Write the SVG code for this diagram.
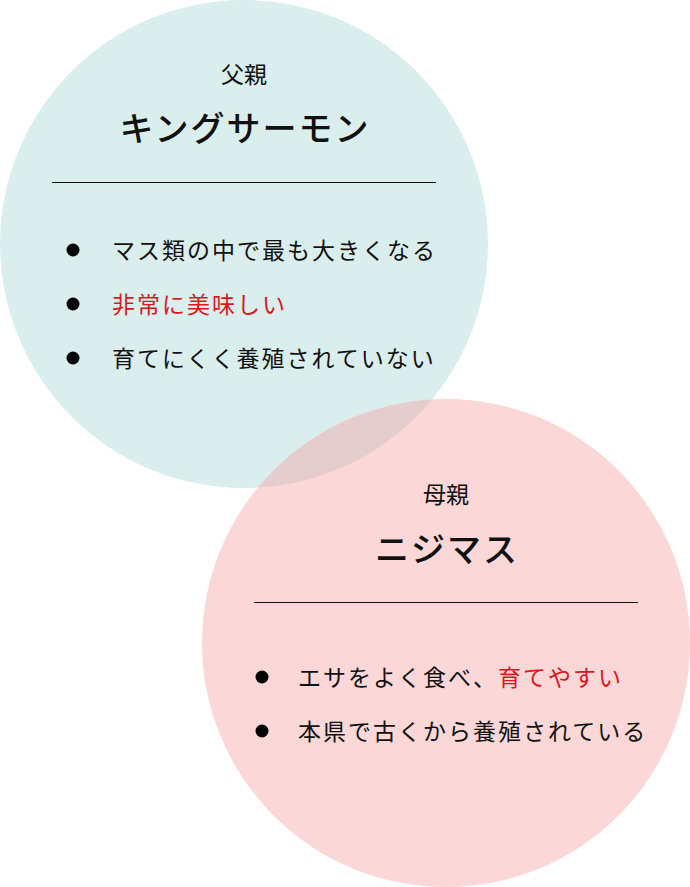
<svg xmlns="http://www.w3.org/2000/svg" width="690" height="887" viewBox="0 0 690 887">
<style>
text{font-family:"Noto Sans CJK JP","Noto Sans",sans-serif;fill:#111;dominant-baseline:central}
.lbl{font-size:23px;text-anchor:middle}
.ttl{font-size:34px;text-anchor:middle;letter-spacing:2px;font-weight:500}
.item{font-size:23px;letter-spacing:2px}
.red{fill:#d9181e}
.rule{stroke:#111;stroke-width:1}
.dot{fill:#000}
</style>
<g id="father">
<circle cx="244" cy="244" r="244" fill="#daeeed"/>
<text class="lbl" x="244" y="73">父親</text>
<text class="ttl" x="245" y="126">キングサーモン</text>
<line class="rule" x1="52" y1="182.5" x2="436" y2="182.5"/>
<circle class="dot" cx="73" cy="250" r="6.5"/>
<text class="item" x="112" y="249">マス類の中で最も大きくなる</text>
<circle class="dot" cx="73" cy="304" r="6.5"/>
<text class="item red" x="112" y="303">非常に美味しい</text>
<circle class="dot" cx="73" cy="358" r="6.5"/>
<text class="item" x="112" y="357">育てにくく養殖されていない</text>
</g>
<g id="mother">
<circle cx="446" cy="643" r="244" fill="rgb(245,162,162)" fill-opacity="0.43"/>
<text class="lbl" x="446" y="493">母親</text>
<text class="ttl" x="447" y="547">ニジマス</text>
<line class="rule" x1="254" y1="602.5" x2="638" y2="602.5"/>
<circle class="dot" cx="262" cy="677" r="6.5"/>
<text class="item" x="298" y="676">エサをよく食べ、<tspan class="red">育てやすい</tspan></text>
<circle class="dot" cx="262" cy="731" r="6.5"/>
<text class="item" x="298" y="730">本県で古くから養殖されている</text>
</g>
<g id="connectors"/>
</svg>
